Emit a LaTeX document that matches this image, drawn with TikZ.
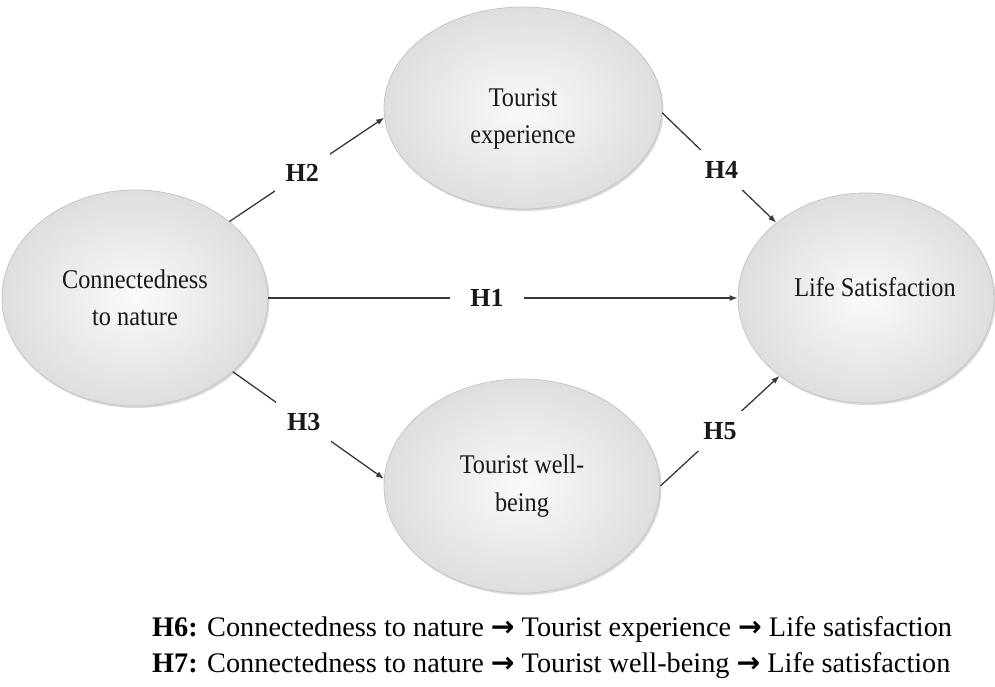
\documentclass[tikz,border=0pt]{standalone}
\usepackage{fontspec}
\setmainfont{Liberation Serif}
\newfontfamily\ellfont[FakeStretch=0.9]{Liberation Serif}
\newfontfamily\arrfont{DejaVu Sans}
\usetikzlibrary{shapes.geometric,shadows,arrows.meta}
\begin{document}
\begin{tikzpicture}[x=1pt,y=-1pt,
  concept/.style={ellipse, draw=gray!45, line width=0.8pt, inner sep=0pt,
    shading=radial, inner color=gray!4, outer color=gray!26,
    drop shadow={opacity=0.3, shadow xshift=1.5pt, shadow yshift=-2pt},
    align=center, font=\ellfont\fontsize{27}{37.5}\selectfont, text=black!90},
  link/.style={draw=black!78, line width=1.3pt, -{Latex[length=8pt,width=6pt]}},
  hyp/.style={fill=white, font=\bfseries\fontsize{26}{30}\selectfont, inner sep=11pt, text=black!90},
  foot/.style={anchor=base west, font=\fontsize{28.3}{34}\selectfont, inner sep=0pt}
]
\useasboundingbox (0,0) rectangle (995,686);

\node[concept, minimum width=266pt, minimum height=216pt] (cn) at (135,298) {Connectedness\\to nature};
\node[concept, minimum width=278pt, minimum height=202pt] (te) at (523,108) {\rule{0pt}{40pt}Tourist\\experience};
\node[concept, minimum width=276pt, minimum height=214pt] (bw) at (522,486) {Tourist well-\\being};
\node[concept, minimum width=256pt, minimum height=210pt] (ls) at (866,298) {\hspace*{18pt}Life Satisfaction\rule[-22pt]{0pt}{22pt}};

\draw[link] (cn.east) -- node[hyp, pos=0.466, inner xsep=20pt] (h1) {H1} (ls.west);
\draw[link] (cn.39) -- node[hyp, pos=0.47] (h2) {H2} (te.184);
\draw[link] (cn.-37) -- node[hyp, pos=0.47] (h3) {H3} (bw.177);
\draw[link] (te.-2) -- node[hyp, pos=0.52] (h4) {H4} (ls.140);
\draw[link] (bw.east) -- node[hyp, pos=0.5] (h5) {H5} (ls.222);

\node[foot] (h6) at (152,636) {\textbf{H6:} Connectedness to nature {\arrfont\bfseries →} Tourist experience {\arrfont\bfseries →} Life satisfaction};
\node[foot] (h7) at (152,672) {\textbf{H7:} Connectedness to nature {\arrfont\bfseries →} Tourist well-being {\arrfont\bfseries →} Life satisfaction};
\end{tikzpicture}
\end{document}
